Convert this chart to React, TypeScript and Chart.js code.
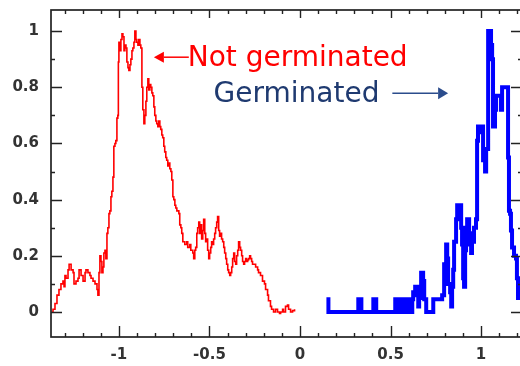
import React, { useEffect, useRef } from 'react';
import { Chart, registerables } from 'chart.js';

Chart.register(...registerables);

// ---- data ----
const notGerminatedX = [
  -1.369, -1.364, -1.353, -1.342, -1.331, -1.32, -1.309, -1.303, -1.298, -1.292, -1.281, -1.275, -1.264, -1.253,
  -1.248, -1.237, -1.226, -1.22, -1.209, -1.198, -1.187, -1.182, -1.171, -1.16, -1.154, -1.143, -1.132, -1.121,
  -1.116, -1.11, -1.105, -1.099, -1.094, -1.088, -1.083, -1.077, -1.072, -1.066, -1.061, -1.055, -1.05, -1.044,
  -1.039, -1.033, -1.028, -1.022, -1.017, -1.011, -1.006, -1.003, -1.0, -0.994, -0.989, -0.983, -0.978, -0.972,
  -0.967, -0.961, -0.956, -0.95, -0.945, -0.939, -0.934, -0.928, -0.923, -0.917, -0.912, -0.906, -0.901, -0.895,
  -0.89, -0.884, -0.879, -0.873, -0.868, -0.862, -0.857, -0.851, -0.846, -0.84, -0.835, -0.829, -0.824, -0.818,
  -0.813, -0.807, -0.802, -0.796, -0.791, -0.785, -0.78, -0.774, -0.769, -0.763, -0.758, -0.752, -0.747, -0.741,
  -0.736, -0.73, -0.725, -0.719, -0.713, -0.708, -0.702, -0.697, -0.691, -0.686, -0.68, -0.669, -0.664, -0.658,
  -0.653, -0.647, -0.636, -0.625, -0.62, -0.609, -0.603, -0.592, -0.587, -0.581, -0.576, -0.57, -0.565, -0.559,
  -0.554, -0.548, -0.543, -0.537, -0.532, -0.526, -0.521, -0.515, -0.51, -0.504, -0.499, -0.493, -0.488, -0.482,
  -0.477, -0.471, -0.466, -0.46, -0.455, -0.449, -0.444, -0.438, -0.433, -0.427, -0.421, -0.416, -0.41, -0.405,
  -0.399, -0.394, -0.388, -0.383, -0.377, -0.372, -0.366, -0.361, -0.355, -0.35, -0.344, -0.339, -0.333, -0.328,
  -0.322, -0.317, -0.311, -0.306, -0.3, -0.295, -0.289, -0.284, -0.278, -0.273, -0.267, -0.262, -0.256, -0.245,
  -0.234, -0.229, -0.218, -0.207, -0.196, -0.19, -0.179, -0.174, -0.163, -0.157, -0.146, -0.135, -0.124, -0.113,
  -0.107, -0.096, -0.091, -0.08, -0.069, -0.063, -0.052, -0.041, -0.03,
];
const notGerminatedY = [
  0, 0.01, 0.03, 0.06, 0.08, 0.1, 0.11, 0.09, 0.13, 0.12, 0.15, 0.17, 0.15, 0.14,
  0.1, 0.11, 0.12, 0.15, 0.13, 0.11, 0.14, 0.15, 0.14, 0.13, 0.12, 0.11, 0.1, 0.08,
  0.06, 0.14, 0.2, 0.18, 0.14, 0.16, 0.21, 0.22, 0.19, 0.28, 0.3, 0.35, 0.36, 0.41,
  0.43, 0.48, 0.59, 0.6, 0.61, 0.69, 0.7, 0.89, 0.96, 0.93, 0.97, 0.99, 0.98, 0.93,
  0.95, 0.94, 0.89, 0.87, 0.86, 0.88, 0.9, 0.93, 0.94, 0.96, 1.0, 0.97, 0.96, 0.95,
  0.97, 0.95, 0.94, 0.8, 0.72, 0.67, 0.7, 0.75, 0.8, 0.83, 0.79, 0.81, 0.8, 0.78,
  0.77, 0.73, 0.7, 0.68, 0.67, 0.66, 0.68, 0.66, 0.65, 0.63, 0.62, 0.59, 0.57, 0.55,
  0.54, 0.52, 0.53, 0.51, 0.5, 0.47, 0.41, 0.4, 0.38, 0.37, 0.36, 0.35, 0.31, 0.3,
  0.28, 0.25, 0.24, 0.25, 0.23, 0.24, 0.22, 0.21, 0.19, 0.22, 0.23, 0.28, 0.3, 0.32,
  0.28, 0.31, 0.26, 0.29, 0.33, 0.28, 0.25, 0.26, 0.22, 0.19, 0.21, 0.23, 0.25, 0.24,
  0.26, 0.28, 0.3, 0.32, 0.34, 0.29, 0.27, 0.28, 0.26, 0.25, 0.23, 0.21, 0.19, 0.17,
  0.15, 0.14, 0.13, 0.14, 0.16, 0.19, 0.21, 0.18, 0.17, 0.2, 0.22, 0.25, 0.23, 0.22,
  0.2, 0.18, 0.17, 0.18, 0.19, 0.18, 0.185, 0.19, 0.2, 0.19, 0.18, 0.17, 0.17, 0.16,
  0.15, 0.14, 0.13, 0.11, 0.1, 0.08, 0.06, 0.04, 0.02, 0.01, 0.0, 0.01, 0.0, -0.005,
  0.0, 0.01, 0.0, 0.02, 0.025, 0.01, 0.0, 0.005, 0.01,
];

const germinatedX = [
  0.146, 0.157, 0.322, 0.339, 0.405, 0.421, 0.526, 0.537, 0.559, 0.576, 0.598, 0.609, 0.62, 0.625,
  0.636, 0.642, 0.647, 0.653, 0.658, 0.664, 0.669, 0.68, 0.686, 0.697, 0.736, 0.785, 0.796, 0.807,
  0.813, 0.818, 0.829, 0.835, 0.84, 0.846, 0.851, 0.862, 0.868, 0.879, 0.884, 0.89, 0.895, 0.901,
  0.906, 0.912, 0.917, 0.923, 0.934, 0.939, 0.945, 0.95, 0.961, 0.972, 0.978, 0.983, 0.994, 1.006,
  1.011, 1.022, 1.028, 1.039, 1.055, 1.061, 1.066, 1.077, 1.083, 1.099, 1.11, 1.116, 1.138, 1.149,
  1.154, 1.16, 1.165, 1.171, 1.182, 1.193, 1.198, 1.204, 1.215, 1.226, 1.237,
];
const germinatedY = [
  0.045, 0, 0.045, 0, 0.045, 0, 0.045, 0, 0.045, 0, 0.045, 0, 0.045, 0.07,
  0.09, 0.06, 0.09, 0.02, 0.05, 0.07, 0.14, 0.11, 0.045, 0, 0.045, 0.06, 0.17, 0.24,
  0.19, 0.1, 0.07, 0.02, 0.09, 0.15, 0.25, 0.33, 0.38, 0.35, 0.38, 0.3, 0.24, 0.12,
  0.09, 0.22, 0.3, 0.33, 0.28, 0.24, 0.21, 0.25, 0.3, 0.33, 0.61, 0.66, 0.64, 0.66,
  0.54, 0.5, 0.58, 1.0, 0.95, 0.9, 0.66, 0.72, 0.77, 0.77, 0.72, 0.8, 0.8, 0.55,
  0.36, 0.35, 0.29, 0.23, 0.2, 0.19, 0.12, 0.05, 0.07, 0.1, 0.12,
];

const xTickValues = [-1, -0.5, 0, 0.5, 1];
const xTickLabels = ['-1', '-0.5', '0', '0.5', '1'];
const xMinorTicks = [-1.3, -1.2, -1.1, -0.9, -0.8, -0.7, -0.6, -0.4, -0.3, -0.2, -0.1, 0.1, 0.2, 0.3, 0.4, 0.6, 0.7, 0.8, 0.9, 1.1, 1.2];
const yTickValues = [0, 0.2, 0.4, 0.6, 0.8, 1];
const yTickLabels = ['0', '0.2', '0.4', '0.6', '0.8', '1'];
const yMinorTicks = [0.1, 0.3, 0.5, 0.7, 0.9];
const xMin = -1.375;
const xMax = 1.226;
const yMin = -0.089;
const yMax = 1.075;

const seriesNames = ['Not germinated', 'Germinated'];

// annotation anchors in data units
const notGermLabelPos = { x: -0.62, y: 0.875 };
const notGermArrow = { fromX: -0.614, toX: -0.807, y: 0.907 };
const germLabelPos = { x: -0.477, y: 0.746 };
const germArrow = { fromX: 0.51, toX: 0.818, y: 0.779 };

const RED = '#ff0000';
const BLUE = '#0000ff';
const NAVY_TEXT = '#1f3a70';
const NAVY_ARROW = '#2b4c8c';
const AXIS = '#222222';
const LABEL = '#333333';

const framePlugin = {
  id: 'frameAndNotes',
  afterDraw(chart: any) {
    const { ctx, chartArea: a, scales } = chart;
    const xs = scales.x;
    const ys = scales.y;
    ctx.save();
    // frame
    ctx.strokeStyle = AXIS;
    ctx.lineWidth = 1.7;
    ctx.strokeRect(a.left, a.top, a.right - a.left, a.bottom - a.top);
    ctx.lineWidth = 1.4;
    const MAJ = 11;
    const MIN = 4;
    const vTick = (v: number, len: number) => {
      const px = Math.round(xs.getPixelForValue(v)) + 0.5;
      ctx.beginPath();
      ctx.moveTo(px, a.bottom);
      ctx.lineTo(px, a.bottom - len);
      ctx.moveTo(px, a.top);
      ctx.lineTo(px, a.top + Math.min(len, 8));
      ctx.stroke();
    };
    const hTick = (v: number, len: number) => {
      const py = Math.round(ys.getPixelForValue(v)) + 0.5;
      ctx.beginPath();
      ctx.moveTo(a.left, py);
      ctx.lineTo(a.left + len, py);
      ctx.moveTo(a.right, py);
      ctx.lineTo(a.right - len, py);
      ctx.stroke();
    };
    xTickValues.forEach((v) => vTick(v, MAJ));
    xMinorTicks.forEach((v) => vTick(v, MIN));
    yTickValues.forEach((v) => hTick(v, MAJ));
    yMinorTicks.forEach((v) => hTick(v, MIN));

    // annotations
    const arrow = (fromX: number, toX: number, y: number, color: string, head: number, half: number) => {
      const x0 = xs.getPixelForValue(fromX);
      const x1 = xs.getPixelForValue(toX);
      const py = ys.getPixelForValue(y);
      const dir = Math.sign(x1 - x0);
      ctx.strokeStyle = color;
      ctx.fillStyle = color;
      ctx.lineWidth = 1.5;
      ctx.beginPath();
      ctx.moveTo(x0, py);
      ctx.lineTo(x1 - dir * head, py);
      ctx.stroke();
      ctx.beginPath();
      ctx.moveTo(x1, py);
      ctx.lineTo(x1 - dir * head, py - half);
      ctx.lineTo(x1 - dir * head, py + half);
      ctx.closePath();
      ctx.fill();
    };
    ctx.font = '28px "DejaVu Sans"';
    ctx.textBaseline = 'alphabetic';
    ctx.textAlign = 'left';
    ctx.fillStyle = RED;
    ctx.fillText(seriesNames[0], xs.getPixelForValue(notGermLabelPos.x), ys.getPixelForValue(notGermLabelPos.y));
    arrow(notGermArrow.fromX, notGermArrow.toX, notGermArrow.y, RED, 10, 5.5);
    ctx.fillStyle = NAVY_TEXT;
    ctx.fillText(seriesNames[1], xs.getPixelForValue(germLabelPos.x), ys.getPixelForValue(germLabelPos.y));
    arrow(germArrow.fromX, germArrow.toX, germArrow.y, NAVY_ARROW, 10, 6);
    ctx.restore();
  },
};

export default function App() {
  const ref = useRef<HTMLCanvasElement | null>(null);
  useEffect(() => {
    if (!ref.current) return;
    const tickFont = { family: '"DejaVu Sans"', size: 15, weight: 'bold' as const };
    const chart = new Chart(ref.current, {
      type: 'line',
      data: {
        datasets: [
          {
            label: seriesNames[0],
            data: notGerminatedX.map((x, i) => ({ x, y: notGerminatedY[i] })),
            borderColor: RED,
            borderWidth: 1.6,
            pointRadius: 0,
            stepped: 'before',
            fill: false,
          },
          {
            label: seriesNames[1],
            data: germinatedX.map((x, i) => ({ x, y: germinatedY[i] })),
            borderColor: BLUE,
            borderWidth: 4,
            pointRadius: 0,
            stepped: 'before',
            fill: false,
            borderJoinStyle: 'miter',
          },
        ],
      },
      options: {
        animation: false,
        responsive: false,
        maintainAspectRatio: false,
        layout: { padding: { left: 0, top: 10, right: 18, bottom: 0 } },
        plugins: { legend: { display: false }, tooltip: { enabled: false } },
        scales: {
          x: {
            type: 'linear',
            min: xMin,
            max: xMax,
            afterBuildTicks: (s: any) => {
              s.ticks = xTickValues.map((v) => ({ value: v }));
            },
            afterFit: (s: any) => {
              s.height = 29;
              s.paddingLeft = 0;
              s.paddingRight = 0;
            },
            ticks: {
              autoSkip: false,
              maxRotation: 0,
              padding: 9,
              color: LABEL,
              font: tickFont,
              callback: (_v: any, i: number) => xTickLabels[i],
            },
            grid: { display: false, drawTicks: false },
            border: { display: false },
          },
          y: {
            type: 'linear',
            min: yMin,
            max: yMax,
            afterBuildTicks: (s: any) => {
              s.ticks = yTickValues.map((v) => ({ value: v }));
            },
            afterFit: (s: any) => {
              s.width = 51;
              s.paddingTop = 0;
              s.paddingBottom = 0;
            },
            ticks: {
              autoSkip: false,
              padding: 12,
              color: LABEL,
              font: tickFont,
              callback: (_v: any, i: number) => yTickLabels[i],
            },
            grid: { display: false, drawTicks: false },
            border: { display: false },
          },
        },
      },
      plugins: [framePlugin],
    } as any);
    return () => chart.destroy();
  }, []);
  return (
    <div style={{ position: 'fixed', left: 0, top: 0, width: 520, height: 366, overflow: 'hidden', background: '#fff' }}>
      <canvas ref={ref} width={540} height={366} style={{ width: 540, height: 366, display: 'block' }} />
    </div>
  );
}
